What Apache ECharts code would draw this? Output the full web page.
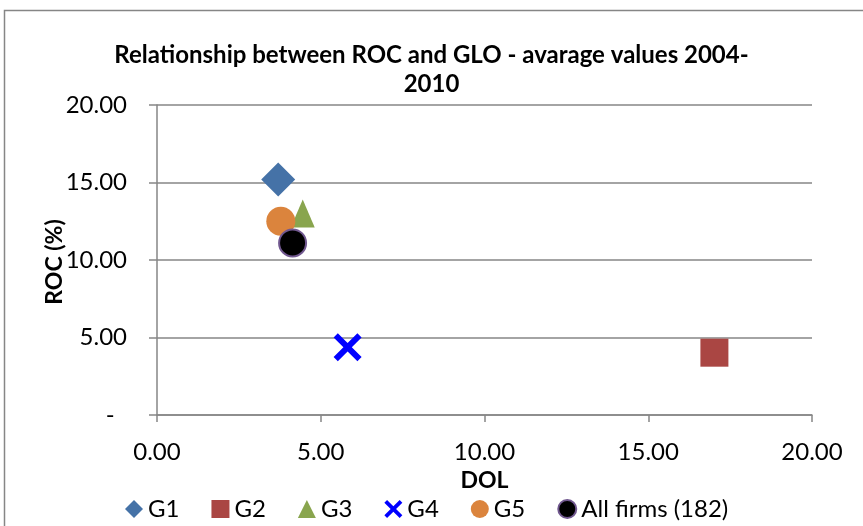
<!DOCTYPE html>
<html>
<head>
<meta charset="utf-8">
<script src="https://cdn.jsdelivr.net/npm/echarts@6/dist/echarts.min.js"></script>
<style>
  html, body { margin: 0; padding: 0; background: #fff; }
  #chart { width: 863px; height: 526px; }
</style>
</head>
<body>
<div id="chart"></div>
<script>
    // data
    const seriesNames = ['G1', 'G2', 'G3', 'G4', 'G5', 'All firms (182)'];
    const dolValues = [3.70, 17.02, 4.45, 5.82, 3.78, 4.14];
    const rocValues = [15.2, 4.02, 13.0, 4.37, 12.5, 11.1];
    const axisMin = 0, axisMax = 20, axisStep = 5;

    const colors = ['#4572A7', '#AA4643', '#89A54E', '#0000FF', '#DB843D', '#000000'];
    const symbols = [
        'diamond', 'rect', 'triangle',
        'path://M3,0 L10,7 L17,0 L20,3 L13,10 L20,17 L17,20 L10,13 L3,20 L0,17 L7,10 L0,3 Z',
        'circle', 'circle'
    ];
    const sizes = [[34, 34], [28, 28], [24, 28], [28, 28], [29, 29], [27, 27]];
    const font = 'Lato';
    const gray = '#868686';

    let myChart = echarts.init(document.getElementById('chart'));
    let series = [];
    for (let i = 0; i < seriesNames.length; i++) {
        series.push({
            name: seriesNames[i],
            type: 'scatter',
            data: [[dolValues[i], rocValues[i]]],
            symbol: symbols[i],
            symbolSize: sizes[i],
            itemStyle: {
                color: colors[i],
                opacity: 1,
                borderColor: i === 5 ? '#71588F' : colors[i],
                borderWidth: i === 5 ? 2 : 0
            },
            z: 10 + i
        });
    }

    myChart.setOption({
        animation: false,
        textStyle: {fontFamily: font, color: '#000'},
        title: {
            text: 'Relationship between ROC and GLO - avarage values 2004-\n2010',
            left: 'center',
            top: 36,
            textStyle: {fontFamily: font, fontSize: 24, fontWeight: 'bold', lineHeight: 29, color: '#000'}
        },
        graphic: [{
            type: 'rect',
            shape: {x: 4.5, y: 10.5, width: 900, height: 600},
            style: {fill: 'none', stroke: gray, lineWidth: 1.5},
            silent: true
        }, {
            // y axis title, placed by hand so it overlaps the labels like the original
            type: 'text',
            x: 55,
            y: 262,
            rotation: Math.PI / 2,
            style: {
                text: 'ROC (%)',
                fontFamily: font, fontSize: 23, fontWeight: 'bold', fill: '#000',
                align: 'center', verticalAlign: 'middle'
            },
            silent: true
        }],
        legend: {
            left: 120,
            top: 492,
            itemWidth: 18,
            itemHeight: 18,
            itemGap: 32,
            textStyle: {fontFamily: font, fontSize: 24, color: '#000'},
            data: seriesNames
        },
        grid: {
            left: 157,
            right: 51,
            top: 105,
            bottom: 111,
            containLabel: false
        },
        xAxis: {
            type: 'value',
            min: axisMin,
            max: axisMax,
            interval: axisStep,
            name: 'DOL',
            nameLocation: 'middle',
            nameGap: 52,
            nameTextStyle: {fontFamily: font, fontSize: 23, fontWeight: 'bold', color: '#000'},
            axisLine: {show: true, lineStyle: {color: gray, width: 1.5}},
            axisTick: {show: true, length: 7, lineStyle: {color: gray, width: 1.5}},
            axisLabel: {
                margin: 25,
                fontFamily: font, fontSize: 24, color: '#000',
                formatter: function (v) { return v.toFixed(2); }
            },
            splitLine: {show: false}
        },
        yAxis: {
            type: 'value',
            min: axisMin,
            max: axisMax,
            interval: axisStep,
            axisLine: {show: true, onZero: false, lineStyle: {color: gray, width: 1.5}},
            axisTick: {show: true, length: 8, lineStyle: {color: gray, width: 1.5}},
            axisLabel: {
                margin: 30,
                fontFamily: font, fontSize: 24, color: '#000',
                formatter: function (v) { return v === 0 ? '-  ' : v.toFixed(2); }
            },
            splitLine: {show: true, lineStyle: {color: gray, width: 1.5}}
        },
        series: series
    });
</script>
</body>
</html>
